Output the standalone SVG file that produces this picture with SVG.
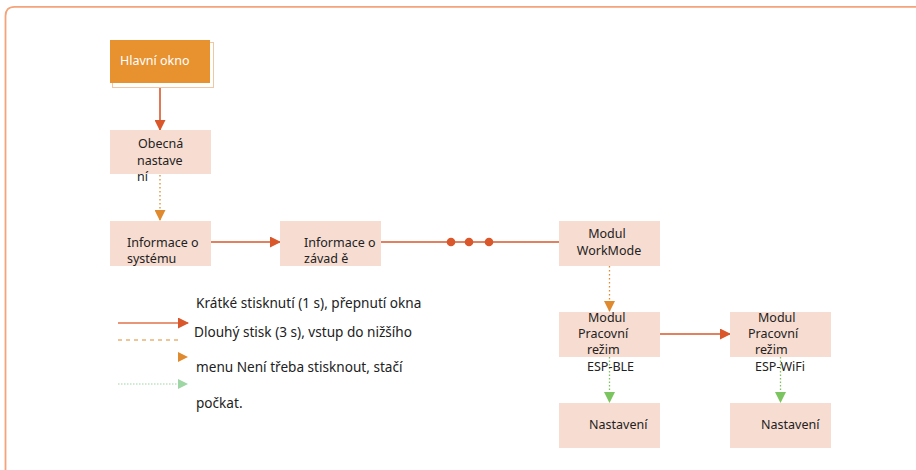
<svg xmlns="http://www.w3.org/2000/svg" width="916" height="470" viewBox="0 0 916 470">
<defs>
<style>
text{font-family:"Noto Sans","Open Sans","DejaVu Sans",sans-serif;font-size:12.5px;fill:#222}
.lg{font-size:13.6px}
.box{fill:#f7dcd1}
.solid{stroke:#d9572b;stroke-width:1.6;fill:none}
.dot{stroke:#e08a30;stroke-width:1.3;fill:none;stroke-dasharray:1.5 2.5}
.green{stroke:#7cc45f;stroke-width:1.3;fill:none;stroke-dasharray:1.5 2}
.c{text-anchor:middle}
</style>
<marker id="ar" markerUnits="userSpaceOnUse" markerWidth="11" markerHeight="11" refX="10" refY="5.5" orient="auto"><path d="M0,0 L11,5.5 L0,11 Z" fill="#d9572b"/></marker>
<marker id="ao" markerUnits="userSpaceOnUse" markerWidth="11" markerHeight="11" refX="10" refY="5.5" orient="auto"><path d="M0,0 L11,5.5 L0,11 Z" fill="#e08a30"/></marker>
<marker id="ag" markerUnits="userSpaceOnUse" markerWidth="11" markerHeight="11" refX="10" refY="5.5" orient="auto"><path d="M0,0 L11,5.5 L0,11 Z" fill="#7cc45f"/></marker>
</defs>
<rect width="916" height="470" fill="#fff"/>
<path d="M5.5,470 V16 Q5.5,6.8 14.5,6.8 H916" fill="none" stroke="#f5a37a" stroke-width="1.8"/>

<g id="connectors">
<line class="solid" x1="160" y1="83" x2="160" y2="130" marker-end="url(#ar)"/>
<line class="dot" x1="160" y1="175" x2="160" y2="220" marker-end="url(#ao)"/>
<line class="solid" x1="211" y1="242" x2="280" y2="242" marker-end="url(#ar)"/>
<line class="solid" x1="381" y1="242" x2="559" y2="242"/>
<circle cx="451" cy="242" r="4.3" fill="#d9572b"/>
<circle cx="469" cy="242" r="4.3" fill="#d9572b"/>
<circle cx="489" cy="242" r="4.3" fill="#d9572b"/>
<line class="dot" x1="609.5" y1="266" x2="609.5" y2="311" marker-end="url(#ao)"/>
<line class="solid" x1="660" y1="334" x2="730" y2="334" marker-end="url(#ar)"/>
<line class="green" x1="609.5" y1="357" x2="609.5" y2="402" marker-end="url(#ag)"/>
<line class="green" x1="780.5" y1="357" x2="780.5" y2="402" marker-end="url(#ag)"/>
</g>

<g id="hlavni">
<rect x="112.5" y="42.5" width="101" height="45" fill="#fff" stroke="#f1c6a2" stroke-width="1"/>
<rect x="110" y="40" width="100" height="43" fill="#e8912f"/>
<text x="120" y="65" style="fill:#fff">Hlavní okno</text>
</g>
<g id="obecna">
<rect class="box" x="110" y="130" width="101" height="44"/>
<text x="138" y="148">Obecná</text>
<text x="137" y="165">nastave</text>
<text x="137" y="181">ní</text>
</g>
<g id="info-system">
<rect class="box" x="110" y="221" width="101" height="45"/>
<text x="127" y="247">Informace o</text>
<text x="127" y="263">systému</text>
</g>
<g id="info-zavade">
<rect class="box" x="280" y="221" width="101" height="45"/>
<text x="304" y="247">Informace o</text>
<text x="304" y="263">závad ě</text>
</g>
<g id="workmode">
<rect class="box" x="559" y="221" width="101" height="45"/>
<text class="c" x="607" y="238">Modul</text>
<text class="c" x="609" y="255">WorkMode</text>
</g>
<g id="ble">
<rect class="box" x="559" y="312" width="101" height="45"/>
<text x="588" y="322">Modul</text>
<text x="578" y="338">Pracovní</text>
<text x="587" y="354">režim</text>
<text x="587" y="371">ESP-BLE</text>
</g>
<g id="wifi">
<rect class="box" x="730" y="312" width="101" height="45"/>
<text x="758" y="322">Modul</text>
<text x="748" y="338">Pracovní</text>
<text x="755" y="354">režim</text>
<text x="755" y="371">ESP-WiFi</text>
</g>
<g id="nast-ble">
<rect class="box" x="559" y="403" width="101" height="45"/>
<text x="589" y="429">Nastavení</text>
</g>
<g id="nast-wifi">
<rect class="box" x="730" y="403" width="101" height="45"/>
<text x="761" y="429">Nastavení</text>
</g>

<g id="legend">
<line class="solid" x1="118" y1="323" x2="188" y2="323" marker-end="url(#ar)" style="stroke:#e0734a"/>
<line x1="118" y1="340" x2="178" y2="340" stroke="#e08a30" stroke-width="1.2" stroke-dasharray="4 4"/>
<path d="M178,352 L188,357 L178,362 Z" fill="#e08a30"/>
<line x1="118" y1="384" x2="178" y2="384" stroke="#9fd6a6" stroke-width="1.2" stroke-dasharray="1.5 1.5"/>
<path d="M178,379 L188,384 L178,389 Z" fill="#9fd6a6"/>
<text class="lg" x="196" y="308">Krátké stisknutí (1 s), přepnutí okna</text>
<text class="lg" x="194" y="337">Dlouhý stisk (3 s), vstup do nižšího</text>
<text class="lg" x="196" y="372">menu Není třeba stisknout, stačí</text>
<text class="lg" x="196" y="408">počkat.</text>
</g>
</svg>
